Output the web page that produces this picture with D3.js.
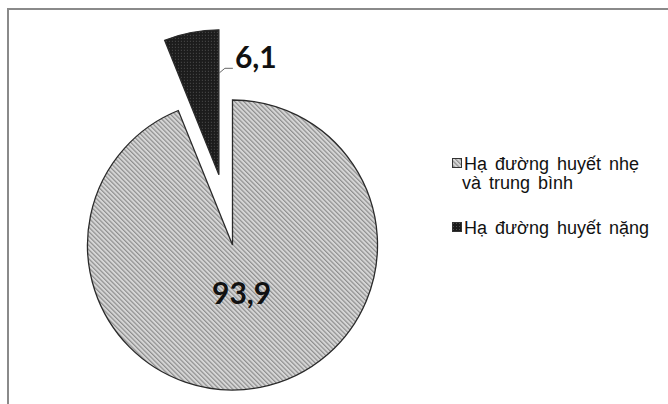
<!DOCTYPE html>
<html>
<head>
<meta charset="utf-8">
<script src="https://cdn.jsdelivr.net/npm/d3@7"></script>
<style>
  html, body { margin: 0; padding: 0; background: #fff; }
  svg { display: block; }
</style>
</head>
<body>
<svg id="chart" width="668" height="404"></svg>
<script>
// Share of hypoglycaemia cases by severity (%)
const categories = ["Hạ đường huyết nhẹ và trung bình", "Hạ đường huyết nặng"];
const values = [93.9, 6.1];
const valueLabels = ["93,9", "6,1"];
const legendLines = [["Hạ đường huyết nhẹ", "và trung bình"], ["Hạ đường huyết nặng"]];

const svg = d3.select("#chart");
const W = 668, H = 404;

// fill patterns: light diagonal hatch and dark dotted texture
const defs = svg.append("defs");
const hatch = defs.append("pattern")
  .attr("id", "hatchLight")
  .attr("patternUnits", "userSpaceOnUse")
  .attr("width", 3.2).attr("height", 3.2)
  .attr("patternTransform", "rotate(-45)");
hatch.append("rect").attr("width", 3.2).attr("height", 3.2).attr("fill", "#d6d6d6");
hatch.append("rect").attr("width", 1.2).attr("height", 3.2).attr("fill", "#8e8e8e");

const dots = defs.append("pattern")
  .attr("id", "dotsDark")
  .attr("patternUnits", "userSpaceOnUse")
  .attr("width", 3).attr("height", 3);
dots.append("rect").attr("width", 3).attr("height", 3).attr("fill", "#1c1c1c");
dots.append("rect").attr("x", 1).attr("y", 1).attr("width", 1).attr("height", 1).attr("fill", "#505050");

const fills = ["url(#hatchLight)", "url(#dotsDark)"];

// chart area frame
svg.append("rect")
  .attr("x", 8).attr("y", 9)
  .attr("width", W + 40).attr("height", H + 40)
  .attr("fill", "none")
  .attr("stroke", "#8a8a8a")
  .attr("stroke-width", 2);

// pie
const cx = 232.5, cy = 245, r = 145;
const explode = [0, 71.5];

const pie = d3.pie().sort(null).value(d => d);
const arcs = pie(values);
const arc = d3.arc().innerRadius(0).outerRadius(r);

const g = svg.append("g").attr("transform", `translate(${cx},${cy})`);

function offsetOf(d, i) {
  const mid = (d.startAngle + d.endAngle) / 2;
  return [Math.sin(mid) * explode[i], -Math.cos(mid) * explode[i]];
}

g.selectAll("path.slice")
  .data(arcs)
  .join("path")
  .attr("class", "slice")
  .attr("transform", (d, i) => { const o = offsetOf(d, i); return `translate(${o[0]},${o[1]})`; })
  .attr("d", arc)
  .attr("fill", (d, i) => fills[i])
  .attr("stroke", "#2a2a2a")
  .attr("stroke-width", 1.3)
  .attr("stroke-linejoin", "miter");

// label inside the large slice
const big = arcs[0];
const bigMid = (big.startAngle + big.endAngle) / 2;
g.append("text")
  .attr("x", Math.sin(bigMid) * r * 0.33)
  .attr("y", -Math.cos(bigMid) * r * 0.33)
  .attr("text-anchor", "middle")
  .attr("dominant-baseline", "central")
  .attr("font-family", "Lato, 'Open Sans', sans-serif")
  .attr("font-weight", "bold")
  .attr("font-size", 30)
  .attr("fill", "#111")
  .text(valueLabels[0]);

// label for the exploded slice with a leader line
const small = arcs[1];
const so = offsetOf(small, 1);
const edgeAngle = small.endAngle;          // right edge of the exploded slice
const lr = r * 0.7;
const p0 = [so[0] + Math.sin(edgeAngle) * lr, so[1] - Math.cos(edgeAngle) * lr];
const p1 = [p0[0] + 6, p0[1] - 5];
const p2 = [p1[0] + 8, p1[1]];
g.append("path")
  .attr("d", d3.line()([p0, p1, p2]))
  .attr("fill", "none")
  .attr("stroke", "#666")
  .attr("stroke-width", 1);
g.append("text")
  .attr("x", p2[0] + 2)
  .attr("y", p2[1])
  .attr("font-family", "Lato, 'Open Sans', sans-serif")
  .attr("font-weight", "bold")
  .attr("font-size", 30)
  .attr("fill", "#111")
  .text(valueLabels[1]);

// legend
const legend = svg.append("g").attr("transform", "translate(452,0)");
const entryY = [170, 234];
const lineH = 19;
categories.forEach((c, i) => {
  const e = legend.append("g").attr("transform", `translate(0,${entryY[i]})`);
  e.append("rect")
    .attr("x", 0.5).attr("y", -11.5)
    .attr("width", 9).attr("height", 9)
    .attr("fill", fills[i])
    .attr("stroke", "#333")
    .attr("stroke-width", 1);
  const t = e.append("text")
    .attr("x", 12)
    .attr("y", 0)
    .attr("font-family", "'Liberation Sans', Arial, sans-serif")
    .attr("font-size", 18)
    .attr("word-spacing", 3)
    .attr("fill", "#111");
  legendLines[i].forEach((ln, j) => {
    t.append("tspan").attr("x", j === 0 ? 12 : 10).attr("dy", j === 0 ? 0 : lineH).text(ln);
  });
});
</script>
</body>
</html>
